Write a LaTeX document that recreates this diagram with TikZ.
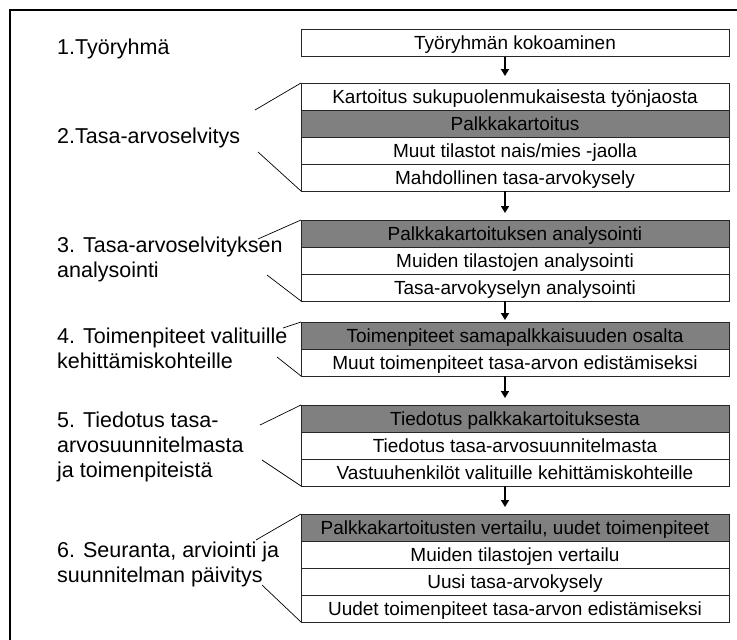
\documentclass[tikz,border=0pt]{standalone}
\usepackage{fontspec}
\setmainfont{Liberation Sans}
\usetikzlibrary{positioning,arrows.meta}

\begin{document}
\begin{tikzpicture}[x=1pt,y=-1pt,
  row/.style={draw=black!85,line width=0.8pt,fill=white,minimum width=428pt,minimum height=27pt,inner sep=0pt,outer sep=0pt,text height=13.6pt,text depth=0pt,font=\fontsize{19}{22}\selectfont},
  grayrow/.style={row,fill=gray},
  phase/.style={anchor=west,align=left,inner sep=0pt,font=\fontsize{21.5}{25}\selectfont},
  arr/.style={-{Triangle[length=7pt,width=8pt]},line width=1.6pt,shorten >=7pt},
  callout/.style={line width=0.7pt}]
\useasboundingbox (0,0) rectangle (737,640);
\draw[line width=2.5pt] (10,640)--(10,10)--(737,10);
% phases
\node[phase,name=l1] at (57,48.5){1.Työryhmä};
\node[phase,name=l2] at (57,137.5){2.Tasa-arvoselvitys};
\node[phase,name=l3] at (57,259){3. Tasa-arvoselvityksen\\analysointi};
\node[phase,name=l4] at (57,348){4. Toimenpiteet valituille\\kehittämiskohteille};
\node[phase,name=l5] at (57,446.5){5. Tiedotus tasa-\\arvosuunnitelmasta\\ja toimenpiteistä};
\node[phase,name=l6] at (57,564){6. Seuranta, arviointi ja\\suunnitelman päivitys};
% boxes
\node[row,name=r1] at (515,43){Työryhmän kokoaminen};
\node[row,name=r21] at (515,96.5){Kartoitus sukupuolenmukaisesta työnjaosta};
\node[grayrow,below=0pt of r21,name=r22]{Palkkakartoitus};
\node[row,below=0pt of r22,name=r23]{Muut tilastot nais/mies -jaolla};
\node[row,below=0pt of r23,name=r24]{Mahdollinen tasa-arvokysely};
\node[grayrow,name=r31] at (515,233.5){Palkkakartoituksen analysointi};
\node[row,below=0pt of r31,name=r32]{Muiden tilastojen analysointi};
\node[row,below=0pt of r32,name=r33]{Tasa-arvokyselyn analysointi};
\node[grayrow,name=r41] at (515,335.5){Toimenpiteet samapalkkaisuuden osalta};
\node[row,below=0pt of r41,name=r42]{Muut toimenpiteet tasa-arvon edistämiseksi};
\node[grayrow,name=r51] at (515,418.5){Tiedotus palkkakartoituksesta};
\node[row,below=0pt of r51,name=r52]{Tiedotus tasa-arvosuunnitelmasta};
\node[row,below=0pt of r52,name=r53]{Vastuuhenkilöt valituille kehittämiskohteille};
\node[grayrow,name=r61] at (515,527.5){Palkkakartoitusten vertailu, uudet toimenpiteet};
\node[row,below=0pt of r61,name=r62]{Muiden tilastojen vertailu};
\node[row,below=0pt of r62,name=r63]{Uusi tasa-arvokysely};
\node[row,below=0pt of r63,name=r64]{Uudet toimenpiteet tasa-arvon edistämiseksi};
% arrows
\draw[arr] ([xshift=-10pt]r1.south)--([xshift=-10pt]r21.north);
\draw[arr] ([xshift=-10pt]r24.south)--([xshift=-10pt]r31.north);
\draw[arr,shorten >=2pt] ([xshift=-10pt]r33.south)--([xshift=-10pt]r41.north);
\draw[arr] ([xshift=-10pt]r42.south)--([xshift=-10pt]r51.north);
\draw[arr] ([xshift=-10pt]r53.south)--([xshift=-10pt]r61.north);
% callouts
\coordinate (c2t) at (255,110);
\coordinate (c2b) at (258,152);
\coordinate (c3t) at (258,239);
\coordinate (c3b) at (267,275);
\coordinate (c4t) at (283,328);
\coordinate (c4b) at (277,357);
\coordinate (c5t) at (260,425);
\coordinate (c5b) at (262,460);
\coordinate (c6t) at (256,540);
\coordinate (c6b) at (262,585);
\draw[callout] (c2t)--(r21.north west);
\draw[callout] (c2b)--(r24.south west);
\draw[callout] (c3t)--(r31.north west);
\draw[callout] (c3b)--(r33.south west);
\draw[callout] (c4t)--(r41.north west);
\draw[callout] (c4b)--(r42.south west);
\draw[callout] (c5t)--(r51.north west);
\draw[callout] (c5b)--(r53.south west);
\draw[callout] (c6t)--(r61.north west);
\draw[callout] (c6b)--(r64.south west);
\end{tikzpicture}
\end{document}
